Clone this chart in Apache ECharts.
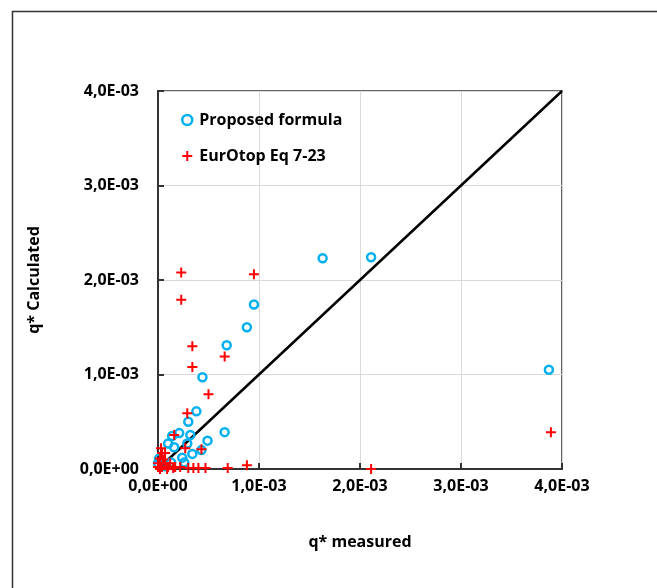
<!DOCTYPE html>
<html><head><meta charset="utf-8">
<script src="https://cdn.jsdelivr.net/npm/echarts@6/dist/echarts.min.js"></script>
<style>html,body{margin:0;padding:0;background:#fff}#c{width:657px;height:588px}</style>
</head><body><div id="c"></div>
<script>
// Values in units of q* (x = measured, y = calculated)
const proposedFormula = [
  [3.87e-3,1.05e-3],[2.11e-3,2.24e-3],[1.63e-3,2.23e-3],[0.95e-3,1.74e-3],[0.88e-3,1.50e-3],
  [0.68e-3,1.31e-3],[0.44e-3,0.97e-3],[0.38e-3,0.61e-3],[0.30e-3,0.50e-3],[0.66e-3,0.39e-3],
  [0.49e-3,0.30e-3],[0.21e-3,0.38e-3],[0.32e-3,0.36e-3],[0.14e-3,0.35e-3],[0.10e-3,0.27e-3],
  [0.29e-3,0.27e-3],[0.16e-3,0.23e-3],[0.34e-3,0.16e-3],[0.43e-3,0.20e-3],[0.24e-3,0.12e-3],
  [0.01e-3,0.11e-3],[0.26e-3,0.07e-3],[0.00e-3,0.06e-3],[0.07e-3,0.03e-3],[0.13e-3,0.07e-3]
];
const eurotop = [
  [3.89e-3,0.39e-3],[2.11e-3,0.00e-3],[0.95e-3,2.06e-3],[0.23e-3,2.08e-3],[0.23e-3,1.79e-3],
  [0.34e-3,1.30e-3],[0.66e-3,1.19e-3],[0.34e-3,1.08e-3],[0.50e-3,0.79e-3],[0.29e-3,0.59e-3],
  [0.16e-3,0.36e-3],[0.27e-3,0.22e-3],[0.43e-3,0.21e-3],[0.03e-3,0.22e-3],[0.04e-3,0.17e-3],
  [0.07e-3,0.17e-3],[0.02e-3,0.11e-3],[0.05e-3,0.10e-3],[0.00e-3,0.06e-3],[0.07e-3,0.06e-3],
  [0.12e-3,0.06e-3],[0.00e-3,0.02e-3],[0.04e-3,0.02e-3],[0.10e-3,0.02e-3],[0.17e-3,0.02e-3],
  [0.02e-3,0.00e-3],[0.09e-3,0.00e-3],[0.15e-3,0.01e-3],[0.22e-3,0.02e-3],[0.30e-3,0.01e-3],
  [0.35e-3,0.01e-3],[0.40e-3,0.01e-3],[0.47e-3,0.01e-3],[0.69e-3,0.01e-3],[0.88e-3,0.04e-3]
];
const identityLine = [[0,0],[4e-3,4e-3]];
const tickLabels = ['0,0E+00','1,0E-03','2,0E-03','3,0E-03','4,0E-03'];
const seriesNames = ['Proposed formula','EurOtop Eq 7-23'];
const xTitle = 'q* measured';
const yTitle = 'q* Calculated';

const FONT = '"Open Sans", "Liberation Sans", sans-serif';
const crossPath = 'path://M4,0H6V4H10V6H6V10H4V6H0V4H4Z';
const fmt = v => tickLabels[Math.round(v / 1e-3)] || '';
const ringStyle = {color:'rgba(255,255,255,0)', borderColor:'#00b0f0', borderWidth:2.5, opacity:1};

const chart = echarts.init(document.getElementById('c'), null, {renderer:'canvas'});
const axisCommon = {
  type:'value', min:0, max:4e-3, interval:1e-3,
  axisLine:{show:true, lineStyle:{color:'#333', width:2}},
  axisTick:{show:true, inside:true, length:6, lineStyle:{color:'#333', width:2}},
  splitLine:{show:true, lineStyle:{color:'#d9d9d9', width:1}},
  axisLabel:{formatter:fmt, color:'#000', fontFamily:FONT, fontWeight:'bold', fontSize:16},
  nameTextStyle:{color:'#000', fontFamily:FONT, fontWeight:'bold', fontSize:16}
};
chart.setOption({
  animation:false,
  backgroundColor:'#fff',
  graphic:[{type:'rect', left:10, top:9, shape:{width:700, height:620},
    style:{fill:'none', stroke:'#333', lineWidth:1.5}, silent:true}],
  grid:{left:158, right:95, top:91, bottom:119, show:true, borderColor:'#333', borderWidth:1.5, backgroundColor:'transparent'},
  legend:{
    orient:'vertical', left:176, top:107, itemGap:20, itemWidth:10, itemHeight:10,
    data:[
      {name:seriesNames[0], icon:'circle', itemStyle:ringStyle},
      {name:seriesNames[1], icon:crossPath, itemStyle:{color:'#ff0000'}}
    ],
    textStyle:{color:'#000', fontFamily:FONT, fontWeight:'bold', fontSize:16, padding:[0,0,0,2]}
  },
  xAxis:Object.assign({}, axisCommon, {
    name:xTitle, nameLocation:'middle', nameGap:65,
    axisLabel:Object.assign({}, axisCommon.axisLabel, {margin:9})
  }),
  yAxis:Object.assign({}, axisCommon, {
    name:yTitle, nameLocation:'middle', nameGap:116,
    axisLabel:Object.assign({}, axisCommon.axisLabel, {margin:19})
  }),
  series:[
    {type:'line', data:identityLine, symbol:'none', lineStyle:{color:'#000', width:2.5}, z:1, silent:true, legendHoverLink:false},
    {name:seriesNames[0], type:'scatter', data:proposedFormula, symbol:'circle', symbolSize:8,
      itemStyle:ringStyle, z:3},
    {name:seriesNames[1], type:'scatter', data:eurotop, symbol:crossPath, symbolSize:10,
      itemStyle:{color:'#ff0000', opacity:1}, z:4}
  ]
});
</script></body></html>
